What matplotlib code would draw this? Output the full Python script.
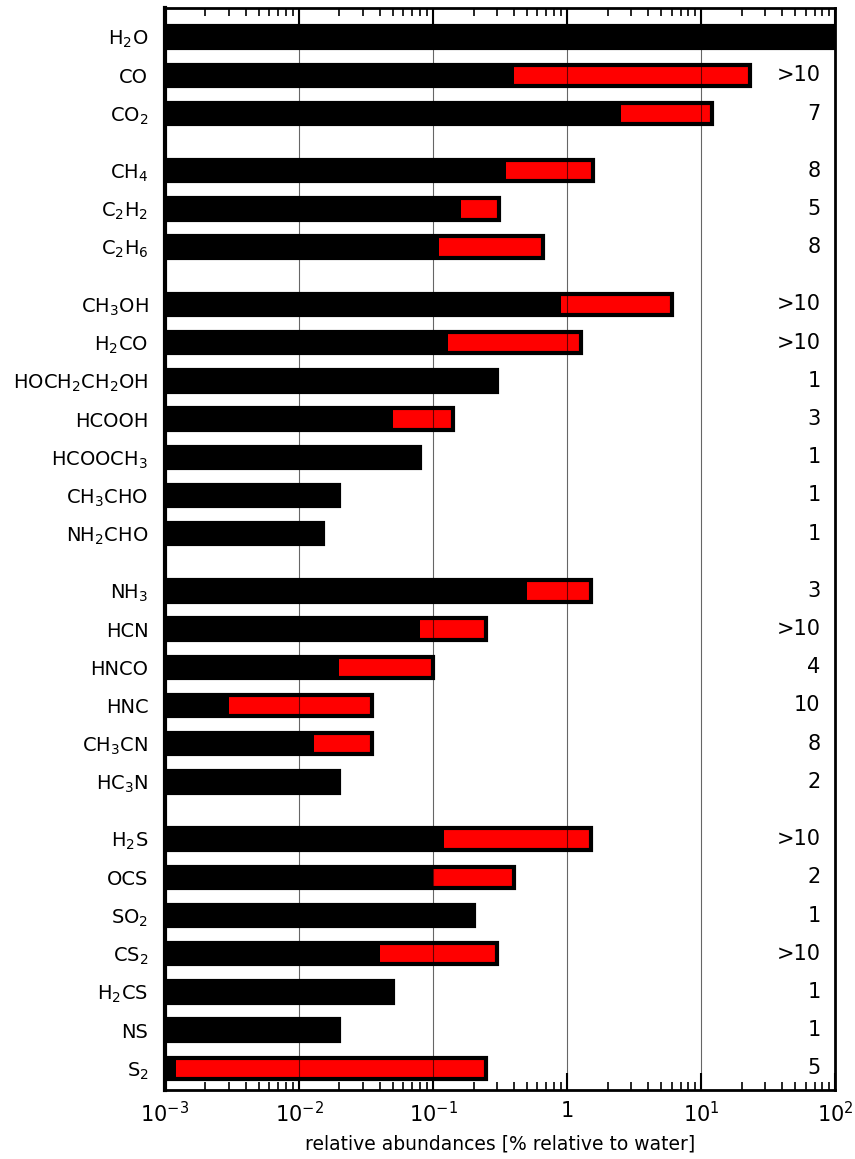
import matplotlib.pyplot as plt
import numpy as np
from matplotlib.ticker import LogLocator, FixedFormatter, FixedLocator, NullFormatter
from matplotlib.transforms import blended_transform_factory

# molecules, top to bottom
molecules = [r'H$_2$O', 'CO', r'CO$_2$',
             r'CH$_4$', r'C$_2$H$_2$', r'C$_2$H$_6$',
             r'CH$_3$OH', r'H$_2$CO', r'HOCH$_2$CH$_2$OH', 'HCOOH', r'HCOOCH$_3$',
             r'CH$_3$CHO', r'NH$_2$CHO',
             r'NH$_3$', 'HCN', 'HNCO', 'HNC', r'CH$_3$CN', r'HC$_3$N',
             r'H$_2$S', 'OCS', r'SO$_2$', r'CS$_2$', r'H$_2$CS', 'NS', r'S$_2$']
# group index of each molecule (a gap between groups)
group = [0, 0, 0, 1, 1, 1, 2, 2, 2, 2, 2, 2, 2, 3, 3, 3, 3, 3, 3, 4, 4, 4, 4, 4, 4, 4]
# abundance range in % relative to water (min, max); min == max -> single value
ab_min = [100, 0.4, 2.5, 0.35, 0.16, 0.11, 0.9, 0.13, 0.3, 0.05, 0.08, 0.02, 0.015,
          0.5, 0.08, 0.02, 0.003, 0.013, 0.02, 0.12, 0.1, 0.2, 0.04, 0.05, 0.02, 0.0012]
ab_max = [100, 23, 12, 1.55, 0.31, 0.66, 6.1, 1.26, 0.3, 0.14, 0.08, 0.02, 0.015,
          1.5, 0.25, 0.1, 0.035, 0.035, 0.02, 1.5, 0.4, 0.2, 0.3, 0.05, 0.02, 0.25]
n_comets = ['', '>10', '7', '8', '5', '8', '>10', '>10', '1', '3', '1', '1', '1',
            '3', '>10', '4', '10', '8', '2', '>10', '2', '1', '>10', '1', '1', '5']

plt.rcParams['font.family'] = ['DejaVu Sans']
plt.rcParams['mathtext.fontset'] = 'dejavusans'

fig = plt.figure(figsize=(8.55, 11.59), dpi=100)
ax = fig.add_axes([0.193, 0.0595, 0.784, 0.9335])

xmin = 1e-3
ypos = np.arange(len(molecules)) + 0.5 * np.array(group)
h = 0.56

for y, lo, hi in zip(ypos, ab_min, ab_max):
    ax.barh(y, lo - xmin, left=xmin, height=h, color='black', zorder=2)
    if hi > lo:
        ax.barh(y, hi - lo, left=lo, height=h, color='red', zorder=2)
    ax.barh(y, hi - xmin, left=xmin, height=h, facecolor='none',
            edgecolor='black', linewidth=3, zorder=4)

for d in [1e-2, 1e-1, 1, 10]:
    ax.axvline(d, color='black', lw=0.8, alpha=0.6, zorder=3)

tr = blended_transform_factory(ax.transAxes, ax.transData)
for y, t in zip(ypos, n_comets):
    ax.text(0.978, y, t, transform=tr, ha='right', va='center', fontsize=15)

ax.set_xscale('log')
ax.set_xlim(1e-3, 1e2)
ax.set_ylim(ypos[-1] + 0.57, -0.76)
ax.set_yticks(ypos)
ax.set_yticklabels(molecules, fontsize=14)
ax.tick_params(axis='y', length=0, pad=12)

ax.xaxis.set_major_locator(FixedLocator([1e-3, 1e-2, 1e-1, 1, 10, 100]))
ax.xaxis.set_major_formatter(FixedFormatter([r'10$^{-3}$', r'10$^{-2}$', r'10$^{-1}$',
                                             '1', r'10$^{1}$', r'10$^{2}$']))
ax.xaxis.set_minor_locator(LogLocator(base=10, subs=np.arange(2, 10)))
ax.xaxis.set_minor_formatter(NullFormatter())
ax.tick_params(axis='x', which='major', direction='in', length=12, width=1.5,
               top=True, labelsize=15, pad=8)
ax.tick_params(axis='x', which='minor', direction='in', length=6, width=1.2, top=True)

for s in ax.spines.values():
    s.set_linewidth(2)
ax.spines['left'].set_linewidth(3)

ax.set_xlabel('relative abundances [% relative to water]', fontsize=13.5, labelpad=6)

fig.savefig('out.png', dpi=100)
